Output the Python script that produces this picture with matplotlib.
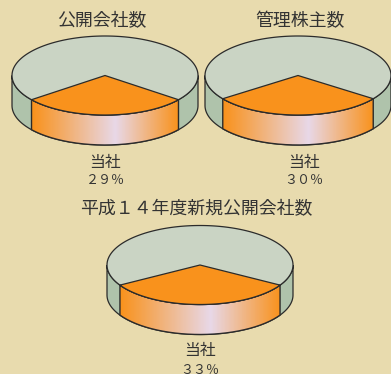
import numpy as np
import matplotlib
matplotlib.use("Agg")
import matplotlib.pyplot as plt
from matplotlib.colors import LinearSegmentedColormap
from matplotlib.patches import PathPatch, Polygon
from matplotlib.path import Path

plt.rcParams['font.family'] = ['Noto Sans CJK JP', 'DejaVu Sans']

titles = ["公開会社数", "管理株主数", "平成１４年度新規公開会社数"]
shares = [29, 30, 33]
slice_label = "当社"
share_labels = ["２９％", "３０％", "３３％"]

BG = "#E8DBAE"
TOP = "#CAD4C4"
SIDE = "#AFC3AB"
ORANGE = "#F9921C"
LILAC = "#E8D8E8"
EDGE = "#2B2B2B"
TEXT = "#333333"

W, H = 391, 374
RX, RY, DEPTH = 93, 39.5, 30

# pie centre x/y, title x/y, label x, label y (two rows)
layout = [
    (105, 75.5, 102, 21, 105, 162, 180),
    (298, 75.5, 300, 21, 304, 162, 180),
    (200, 265, 196, 209, 200, 350, 370),
]

grad = LinearSegmentedColormap.from_list("wall", [ORANGE, LILAC, ORANGE])


def arc(cx, cy, a0, a1, n=120):
    # angles in degrees, measured counter-clockwise on screen
    t = np.radians(np.linspace(a0, a1, n))
    return np.column_stack([cx + RX * np.cos(t), cy - RY * np.sin(t)])


def draw_pie(ax, cx, cy, share):
    half = share / 100 * 360 / 2
    a0, a1 = 270 - half, 270 + half

    # outer wall, grey-green
    front = arc(cx, cy, 180, 360)
    lower = front[::-1] + [0, DEPTH]
    ax.add_patch(Polygon(np.vstack([front, lower]), closed=True, fc=SIDE, ec=EDGE, lw=0.9, zorder=1))

    # company's wall segment with horizontal gradient
    seg = arc(cx, cy, a0, a1)
    seg_low = seg[::-1] + [0, DEPTH]
    verts = np.vstack([seg, seg_low])
    clip = PathPatch(Path(np.vstack([verts, verts[0]])), fc="none", ec=EDGE, lw=1.0, zorder=3)
    ax.add_patch(clip)
    x0, x1 = verts[:, 0].min(), verts[:, 0].max()
    peak = (cx + 10 - x0) / (x1 - x0)
    xs = np.linspace(0, 1, 256)
    vals = np.where(xs < peak, xs / peak * 0.5, 0.5 + (xs - peak) / (1 - peak) * 0.5)
    im = ax.imshow(vals[None, :], extent=[x0, x1, verts[:, 1].max(), verts[:, 1].min()],
                   cmap=grad, vmin=0, vmax=1, aspect="auto", zorder=2)
    im.set_clip_path(clip)

    # top face and the company's slice
    ax.add_patch(Polygon(arc(cx, cy, 0, 360, 240), closed=True, fc=TOP, ec=EDGE, lw=0.9, zorder=4))
    wedge = np.vstack([[cx, cy], arc(cx, cy, a0, a1)])
    ax.add_patch(Polygon(wedge, closed=True, fc=ORANGE, ec=EDGE, lw=0.9, zorder=5))


fig = plt.figure(figsize=(W / 100, H / 100), dpi=100, facecolor=BG)
ax = fig.add_axes([0, 0, 1, 1])
ax.set_xlim(0, W)
ax.set_ylim(H, 0)
ax.axis("off")

for title, share, share_label, (cx, cy, tx, ty, lx, ly1, ly2) in zip(titles, shares, share_labels, layout):
    draw_pie(ax, cx, cy, share)
    ax.text(tx, ty, title, ha="center", va="center", fontsize=12.9, color=TEXT)
    ax.text(lx, ly1, slice_label, ha="center", va="center", fontsize=11.4, color=TEXT)
    ax.text(lx, ly2, share_label, ha="center", va="center", fontsize=9.4, color=TEXT)

fig.savefig("out.png", dpi=100, facecolor=BG)
